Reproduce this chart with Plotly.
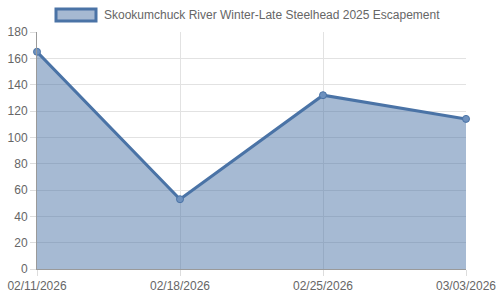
import plotly.graph_objects as go

dates = ["02/11/2026", "02/18/2026", "02/25/2026", "03/03/2026"]
escapement = [165, 53, 132, 114]
series_name = "Skookumchuck River Winter-Late Steelhead 2025 Escapement"
y_ticks = [0, 20, 40, 60, 80, 100, 120, 140, 160, 180]

line_color = "#4a73a6"
fill_color = "rgba(74,115,166,0.49)"
font = dict(family="Liberation Sans, Arial, sans-serif", size=12, color="#666666")

fig = go.Figure()
fig.add_trace(go.Scatter(
    x=dates, y=escapement, mode="lines+markers",
    fill="tozeroy", fillcolor=fill_color,
    line=dict(color=line_color, width=3),
    marker=dict(size=7, color="rgba(110,145,190,1)", line=dict(color=line_color, width=1)),
    cliponaxis=False, showlegend=False, hoverinfo="x+y",
))

fig.update_layout(
    width=500, height=300,
    margin=dict(l=37, r=34, t=32, b=31),
    paper_bgcolor="white", plot_bgcolor="white",
    font=font,
    xaxis=dict(
        type="category", range=[0, 3], showgrid=True, gridcolor="#e2e2e2", gridwidth=1,
        showline=True, linecolor="#9a9a9a", linewidth=1,
        ticks="outside", ticklen=6, tickcolor="#dddddd", tickfont=font,
        zeroline=False, fixedrange=True, automargin=False,
    ),
    yaxis=dict(
        range=[0, 180], tickvals=y_ticks, showgrid=True, gridcolor="#e2e2e2", gridwidth=1,
        showline=True, linecolor="#9a9a9a", linewidth=1,
        ticks="outside", ticklen=6, tickcolor="#dddddd", tickfont=font,
        zeroline=False, fixedrange=True, automargin=False,
    ),
    shapes=[dict(
        type="rect", xref="paper", yref="paper",
        x0=(56 - 37) / 429, x1=(96 - 37) / 429,
        y0=(269 - 21) / 237, y1=(269 - 9) / 237,
        fillcolor="rgba(166,185,210,1)", line=dict(color=line_color, width=3),
    )],
    annotations=[dict(
        text=series_name, xref="paper", yref="paper",
        x=(102 - 37) / 429, y=(269 - 15) / 237, xanchor="left", yanchor="middle",
        showarrow=False, font=font,
    )],
)

fig.write_html("out.html")
